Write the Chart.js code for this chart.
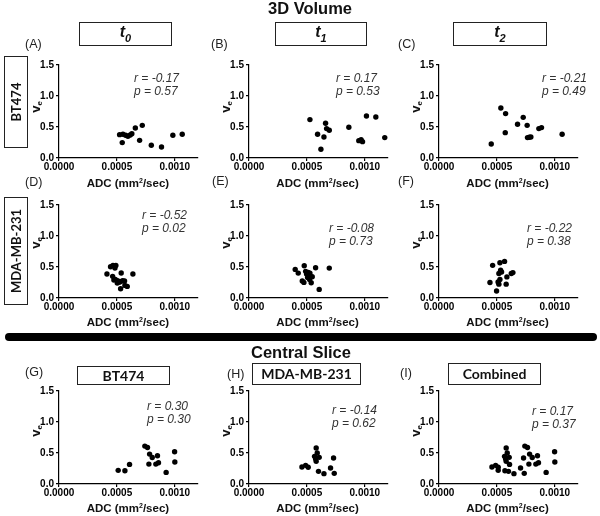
<!DOCTYPE html>
<html>
<head>
<meta charset="utf-8">
<script src="https://cdn.jsdelivr.net/npm/chart.js@4.4.1/dist/chart.umd.min.js"></script>
<style>
  body { margin: 0; background: #fff; }
  #fig { position: relative; width: 600px; height: 516px; overflow: hidden;
         font-family: "Liberation Sans", Arial, sans-serif; color: #111; }
  .t { position: absolute; white-space: nowrap; line-height: 1; }
  .box { position: absolute; border: 1px solid #222; box-sizing: border-box; background: #fff; }
  .panel { position: absolute; }
  .rp { font-style: italic; font-size: 12px; color: #333; }
  .lbl { font-size: 12.5px; color: #222; }
  .ve { font-weight: bold; font-size: 13px; transform: translate(-50%, -50%) rotate(-90deg); }
  .ve sub { font-size: 8px; vertical-align: -2px; }
  .adc { font-weight: bold; font-size: 11.5px; transform: translate(-50%, -50%); }
  .adc sup { font-size: 7px; vertical-align: 4px; }
  .cal { font-family: Lato, "Open Sans", sans-serif; font-weight: bold; }
</style>
</head>
<body>
<div id="fig"></div>
<script>
// tick values shared by all panels
const xTicks = [0, 0.0005, 0.0010];
const yTicks = [0, 0.5, 1.0, 1.5];

// 3D Volume, BT474
const adcA = [0.000523, 0.000552, 0.000575, 0.000595, 0.000615, 0.000629, 0.000546, 0.000659, 0.000696, 0.000719, 0.000797, 0.000885, 0.000983, 0.001064];
const veA  = [0.377, 0.382, 0.366, 0.350, 0.371, 0.393, 0.248, 0.484, 0.285, 0.527, 0.205, 0.177, 0.366, 0.382];
const adcB = [0.000526, 0.000592, 0.000621, 0.000647, 0.000661, 0.000670, 0.000693, 0.000862, 0.000948, 0.000968, 0.000980, 0.001014, 0.001095, 0.001172];
const veB  = [0.619, 0.382, 0.140, 0.339, 0.560, 0.474, 0.447, 0.495, 0.280, 0.297, 0.264, 0.678, 0.661, 0.329];
const adcC = [0.000451, 0.000534, 0.000575, 0.000572, 0.000678, 0.000727, 0.000761, 0.000764, 0.000779, 0.000793, 0.000862, 0.000885, 0.001063];
const veC  = [0.226, 0.806, 0.716, 0.409, 0.544, 0.656, 0.527, 0.329, 0.334, 0.339, 0.474, 0.490, 0.382];

// 3D Volume, MDA-MB-231
const adcD = [0.000414, 0.000445, 0.000466, 0.000491, 0.000483, 0.000463, 0.000474, 0.000486, 0.000506, 0.000529, 0.000503, 0.000520, 0.000537, 0.000549, 0.000566, 0.000532, 0.000569, 0.000589, 0.000638];
const veD  = [0.387, 0.505, 0.526, 0.526, 0.484, 0.349, 0.290, 0.300, 0.279, 0.263, 0.242, 0.258, 0.403, 0.279, 0.274, 0.150, 0.203, 0.187, 0.387];
const adcE = [0.000399, 0.000425, 0.000477, 0.000460, 0.000474, 0.000497, 0.000511, 0.000526, 0.000506, 0.000523, 0.000546, 0.000537, 0.000575, 0.000606, 0.000693, 0.000489, 0.000514];
const veE  = [0.461, 0.402, 0.520, 0.273, 0.252, 0.386, 0.412, 0.402, 0.332, 0.300, 0.343, 0.246, 0.487, 0.139, 0.482, 0.430, 0.360];
const adcF = [0.000440, 0.000463, 0.000497, 0.000526, 0.000517, 0.000532, 0.000540, 0.000510, 0.000526, 0.000517, 0.000566, 0.000580, 0.000586, 0.000624, 0.000638];
const veF  = [0.250, 0.527, 0.112, 0.569, 0.394, 0.447, 0.420, 0.260, 0.298, 0.223, 0.590, 0.223, 0.340, 0.394, 0.410];

// Central slice
const adcG = [0.000511, 0.000569, 0.000609, 0.000741, 0.000764, 0.000782, 0.000776, 0.000805, 0.000836, 0.000850, 0.000859, 0.000925, 0.000998, 0.001000];
const veG  = [0.220, 0.214, 0.316, 0.611, 0.589, 0.482, 0.321, 0.428, 0.321, 0.455, 0.343, 0.187, 0.520, 0.354];
const adcH = [0.000457, 0.000489, 0.000511, 0.000580, 0.000566, 0.000575, 0.000589, 0.000580, 0.000606, 0.000600, 0.000647, 0.000730, 0.000704, 0.000736];
const veH  = [0.274, 0.301, 0.269, 0.581, 0.446, 0.409, 0.500, 0.366, 0.430, 0.204, 0.167, 0.419, 0.258, 0.172];
// combined = both cell lines
const adcI = adcG.concat(adcH);
const veI  = veG.concat(veH);

const rVals = ['-0.17', '0.17', '-0.21', '-0.52', '-0.08', '-0.22', '0.30', '-0.14', '0.17'];
const pVals = ['0.57', '0.53', '0.49', '0.02', '0.73', '0.38', '0.30', '0.62', '0.37'];
const letters = ['A', 'B', 'C', 'D', 'E', 'F', 'G', 'H', 'I'];

// layout (pixel positions of each plot area)
const colX = [59.3, 249, 439];
const rowY = [64.5, 205, 391];
const PLOT_W = 139.2, PLOT_H = 93;
const Y_W = 45, X_H = 22, PAD_T = 8, PAD_R = 8;

const fig = document.getElementById('fig');

function txt(html, x, y, cls, anchor, extra) {
  const d = document.createElement('div');
  d.className = 't ' + (cls || '');
  d.innerHTML = html;
  d.style.left = x + 'px';
  d.style.top = y + 'px';
  if (anchor === 'c') d.style.transform = 'translate(-50%, -50%)';
  else if (anchor === 'l') d.style.transform = 'translate(0, -50%)';
  if (extra) Object.assign(d.style, extra);
  fig.appendChild(d);
  return d;
}

function box(x, y, w, h) {
  const d = document.createElement('div');
  d.className = 'box';
  Object.assign(d.style, { left: x + 'px', top: y + 'px', width: w + 'px', height: h + 'px' });
  fig.appendChild(d);
}

const tickFont = { family: '"Liberation Sans", Arial, sans-serif', size: 10, weight: 'bold' };

function makePanel(adc, ve, x0, y0) {
  const W = Y_W + PLOT_W + PAD_R, H = PAD_T + PLOT_H + X_H;
  const wrap = document.createElement('div');
  wrap.className = 'panel';
  wrap.style.left = (x0 - Y_W) + 'px';
  wrap.style.top = (y0 - PAD_T) + 'px';
  const c = document.createElement('canvas');
  c.width = W; c.height = H;
  wrap.appendChild(c);
  fig.appendChild(wrap);

  new Chart(c, {
    type: 'scatter',
    data: {
      datasets: [{
        data: adc.map((v, i) => ({ x: v, y: ve[i] })),
        backgroundColor: '#000',
        borderColor: '#000',
        borderWidth: 0,
        pointRadius: 2.7,
        pointHoverRadius: 2.7
      }]
    },
    options: {
      responsive: false,
      animation: false,
      layout: { padding: { top: PAD_T, right: PAD_R, left: 0, bottom: 0 } },
      plugins: { legend: { display: false }, tooltip: { enabled: false } },
      scales: {
        x: {
          type: 'linear', min: 0, max: 0.0012,
          afterBuildTicks: s => { s.ticks = xTicks.map(v => ({ value: v })); },
          afterFit: s => { s.height = X_H; },
          ticks: { callback: v => v.toFixed(4), font: tickFont, color: '#000', padding: 0, maxRotation: 0, autoSkip: false },
          grid: { drawOnChartArea: false, drawTicks: true, tickLength: 3, color: '#000', lineWidth: 1.2 },
          border: { color: '#000', width: 1.2 }
        },
        y: {
          min: 0, max: 1.5,
          afterBuildTicks: s => { s.ticks = yTicks.map(v => ({ value: v })); },
          afterFit: s => { s.width = Y_W; },
          ticks: { callback: v => v.toFixed(1), font: tickFont, color: '#000', padding: 2 },
          grid: { drawOnChartArea: false, drawTicks: true, tickLength: 3, color: '#000', lineWidth: 1.2 },
          border: { color: '#000', width: 1.2 }
        }
      }
    }
  });
}

const adcs = [adcA, adcB, adcC, adcD, adcE, adcF, adcG, adcH, adcI];
const ves = [veA, veB, veC, veD, veE, veF, veG, veH, veI];

// r/p annotation anchors (left edge, r line centre y)
const rpPos = [[134, 78], [336, 78], [542, 78], [142, 215], [329, 228], [527, 228], [147, 406], [332, 410], [532, 411]];
// panel letter positions
const letPos = [[25, 44], [211, 44], [398, 44], [25, 182], [212, 181], [398, 181], [25, 372], [227, 374], [400, 373]];
const adcY = [183, 321.5, 508];
const veDy = [-4, -9, -7];

for (let i = 0; i < 9; i++) {
  const col = i % 3, row = Math.floor(i / 3);
  const x0 = colX[col], y0 = rowY[row];
  makePanel(adcs[i], ves[i], x0, y0);
  txt('r = ' + rVals[i], rpPos[i][0], rpPos[i][1], 'rp', 'l');
  txt('p = ' + pVals[i], rpPos[i][0], rpPos[i][1] + 13, 'rp', 'l');
  txt('(' + letters[i] + ')', letPos[i][0], letPos[i][1], 'lbl', 'l');
  txt('ADC (mm<sup>2</sup>/sec)', x0 + PLOT_W / 2 - 1, adcY[row], 'adc');
  txt('v<sub>e</sub>', x0 - 23, y0 + PLOT_H / 2 + veDy[row], 've');
}

// section titles
txt('3D Volume', 310, 8, '', 'c', { fontWeight: 'bold', fontSize: '16.5px' });
txt('Central Slice', 301, 352, '', 'c', { fontWeight: 'bold', fontSize: '16.5px' });

// divider bar
const bar = document.createElement('div');
Object.assign(bar.style, { position: 'absolute', left: '5px', top: '333px', width: '592px', height: '8px', background: '#000', borderRadius: '4px' });
fig.appendChild(bar);

// time point boxes
const tBoxes = [[79, 21.5, 93, 24.5], [275, 22, 92, 23.5], [453, 22, 94, 24]];
tBoxes.forEach((b, i) => {
  box(b[0], b[1], b[2], b[3]);
  txt('t<sub style="font-size:11px">' + i + '</sub>', b[0] + b[2] / 2, b[1] + b[3] / 2, '', 'c',
      { fontWeight: 'bold', fontStyle: 'italic', fontSize: '16px' });
});

// central slice boxes
const csBoxes = [[77, 366, 93, 19, 'BT474'], [252, 363, 109, 22, 'MDA-MB-231'], [448, 363, 93, 22, 'Combined']];
csBoxes.forEach(b => {
  box(b[0], b[1], b[2], b[3]);
  txt(b[4], b[0] + b[2] / 2, b[1] + b[3] / 2, 'cal', 'c', { fontSize: '14px' });
});

// row labels (rotated)
const rowBoxes = [[4, 56, 24, 92, 'BT474'], [4, 197, 24, 108, 'MDA-MB-231']];
rowBoxes.forEach(b => {
  box(b[0], b[1], b[2], b[3]);
  txt(b[4], b[0] + b[2] / 2, b[1] + b[3] / 2, 'cal', '',
      { fontSize: '13px', transform: 'translate(-50%, -50%) rotate(-90deg)' });
});
</script>
</body>
</html>
